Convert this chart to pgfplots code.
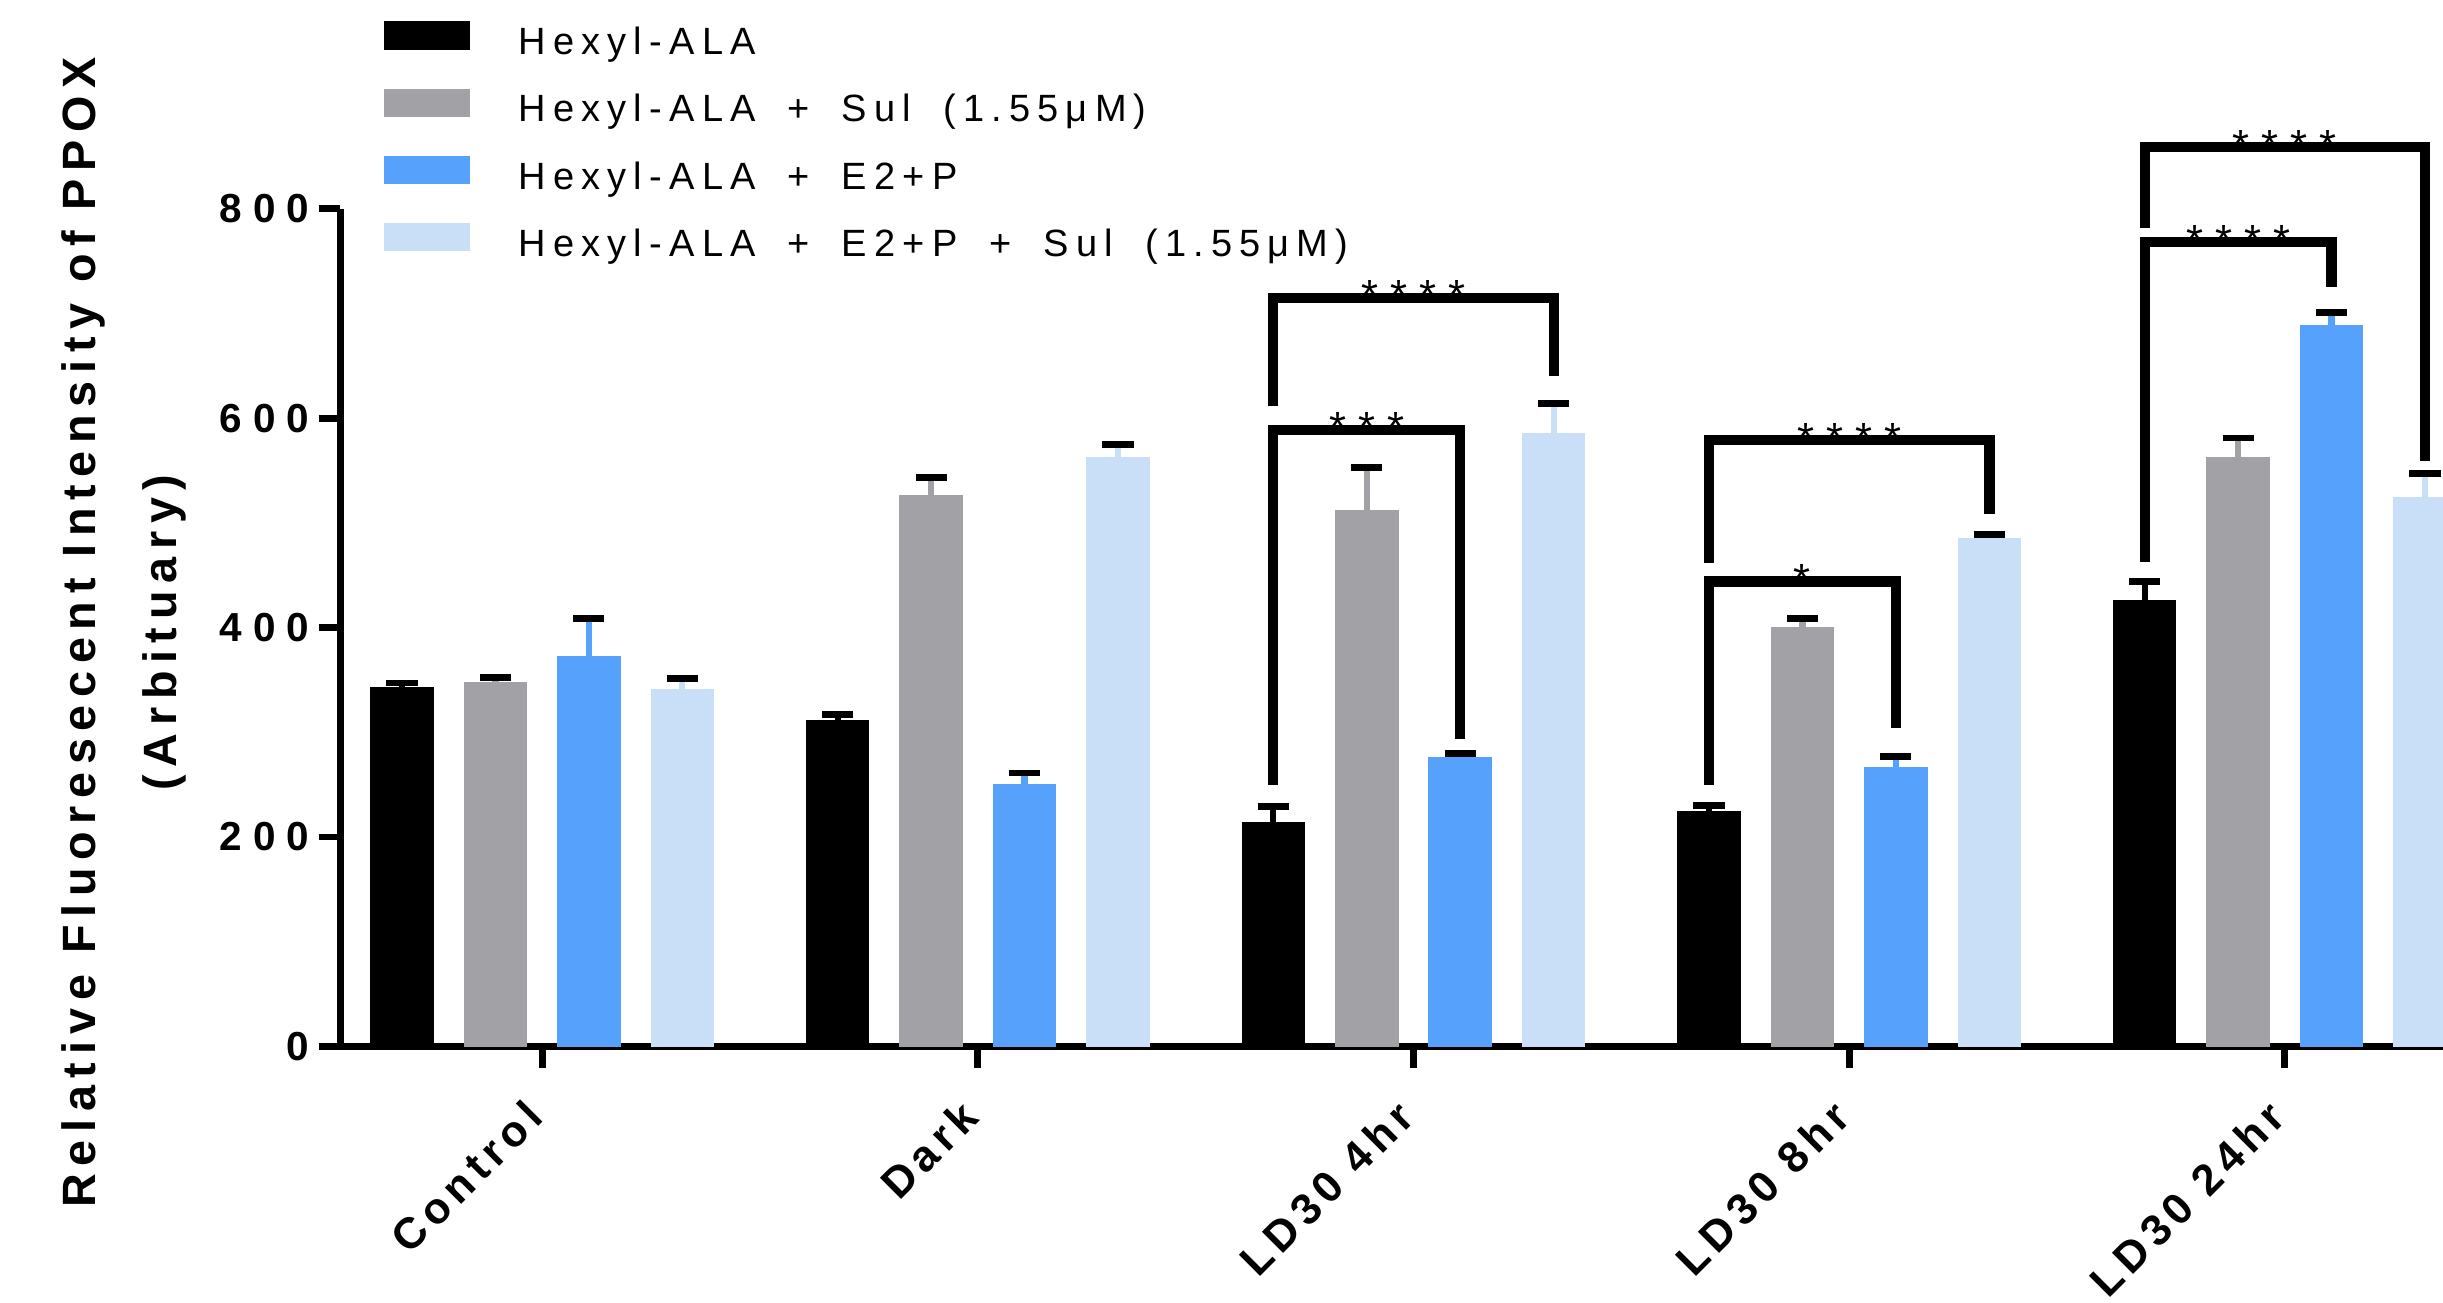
\documentclass[border=0pt]{standalone}
\usepackage{fontspec}
\setmainfont{Liberation Sans}
\newfontfamily\legfont[LetterSpace=19, WordSpace=1.8]{Liberation Sans}
\newfontfamily\tickfont[LetterSpace=26]{Liberation Sans}
\newfontfamily\xlabfont[LetterSpace=14]{Liberation Sans}
\newfontfamily\ylabfont[LetterSpace=16.5]{Liberation Sans}
\usepackage{pgfplots}
\pgfplotsset{compat=1.18}
\definecolor{cgray}{RGB}{162,161,166}
\definecolor{cblue}{RGB}{85,161,251}
\definecolor{clight}{RGB}{201,222,247}
\pgfplotsset{myleg/.style={legend image code/.code={\fill (0pt,-1.35pt) rectangle (27.3pt,7.35pt);}}}
\begin{document}
\begin{tikzpicture}
\begin{axis}[
  scale only axis, width=675pt, height=268.9pt,
  xmin=-0.463, xmax=4.363, ymin=0, ymax=800,
  clip=false,
  ybar, bar width=20pt,
  axis lines=left,
  axis line style={-, line width=2.2pt},
  tick align=outside,
  major tick length=7pt,
  tick style={line width=2.2pt, black},
  xtick={0,1,2,3,4},
  xticklabels={Control,Dark,LD30 4hr,LD30 8hr,LD30 24hr},
  ytick={0,200,400,600,800},
  yticklabels={0,200,400,600,800},
  yticklabel style={font=\tickfont\bfseries\fontsize{13}{15}\selectfont, inner sep=0pt, anchor=east, xshift=-3pt},
  xticklabel style={xshift=1.15pt, yshift=-16.6pt, font=\xlabfont\bfseries\fontsize{14}{16}\selectfont, inner sep=0pt, anchor=base east, rotate=45},
  ylabel={Relative Fluoresecent Intensity of PPOX\\(Arbituary)},
  ylabel style={font=\ylabfont\bfseries\fontsize{15}{26}\selectfont, align=center, at={(axis description cs:-0.1031,0.494)}, anchor=center, inner sep=0pt},
  legend cell align=left,
  legend style={draw=none, fill=none, at={(rel axis cs:0.0204,1.2245)}, anchor=north west, inner sep=0pt, row sep=8.2pt, column sep=15.5pt, font=\legfont\fontsize{12.2}{14}\selectfont, nodes={inner sep=0pt, text height=9pt, text depth=2.7pt}},
  error bars/y dir=plus, error bars/y explicit,
  error bars/error bar style={line width=2pt},
  error bars/error mark options={rotate=90, line width=2.2pt, mark size=5pt},
]
\addplot[myleg, bar shift=-45pt, fill=black, draw=black] coordinates {
 (0,343) +- (0,4) (1,311) +- (0,6) (2,214) +- (0,15) (3,224) +- (0,6) (4,426) +- (0,18)};
\addplot[myleg, bar shift=-15pt, fill=cgray, draw=cgray] coordinates {
 (0,347) +- (0,5) (1,526) +- (0,17) (2,512) +- (0,41) (3,400) +- (0,9) (4,562) +- (0,19)};
\addplot[myleg, bar shift=15pt, fill=cblue, draw=cblue] coordinates {
 (0,372) +- (0,37) (1,250) +- (0,11) (2,276) +- (0,4) (3,266) +- (0,11) (4,688) +- (0,13)};
\addplot[myleg, bar shift=45pt, fill=clight, draw=clight] coordinates {
 (0,341) +- (0,10) (1,562) +- (0,13) (2,585) +- (0,29) (3,485) +- (0,4) (4,524) +- (0,23)};
\legend{Hexyl-ALA, Hexyl-ALA + Sul (1.55μM), Hexyl-ALA + E2+P, Hexyl-ALA + E2+P + Sul (1.55μM)}
% significance brackets
\draw[line width=3.3pt] (axis cs:1.6782,250) -- (axis cs:1.6782,589) -- (axis cs:2.1073,589) -- (axis cs:2.1073,294);
\draw[line width=3.3pt] (axis cs:1.6782,612) -- (axis cs:1.6782,715) -- (axis cs:2.3218,715) -- (axis cs:2.3218,640);
\draw[line width=3.3pt] (axis cs:2.6782,250) -- (axis cs:2.6782,444) -- (axis cs:3.1073,444) -- (axis cs:3.1073,304);
\draw[line width=3.3pt] (axis cs:2.6782,462) -- (axis cs:2.6782,579) -- (axis cs:3.3218,579) -- (axis cs:3.3218,508);
\draw[line width=3.3pt] (axis cs:3.6782,463) -- (axis cs:3.6782,768) -- (axis cs:4.1073,768) -- (axis cs:4.1073,725);
\draw[line width=3.3pt] (axis cs:3.6782,782) -- (axis cs:3.6782,859) -- (axis cs:4.3218,859) -- (axis cs:4.3218,559);
\begin{scope}[every node/.style={anchor=base, inner sep=0pt, yshift=-4.2pt, font=\fontsize{14}{14}\selectfont}]
\node at (axis cs:1.8928,589) {* * *};
\node at (axis cs:2.0,715) {* * * *};
\node at (axis cs:2.8928,444) {*};
\node at (axis cs:3.0,579) {* * * *};
\node at (axis cs:3.8928,768) {* * * *};
\node at (axis cs:4.0,859) {* * * *};
\end{scope}
\coordinate (bbsw) at (rel axis cs:-0.1619,-0.3056);
\coordinate (bbne) at (rel axis cs:1,1.2492);
\end{axis}
\pgfresetboundingbox
\path[use as bounding box] (bbsw) rectangle (bbne);
\end{tikzpicture}
\end{document}
